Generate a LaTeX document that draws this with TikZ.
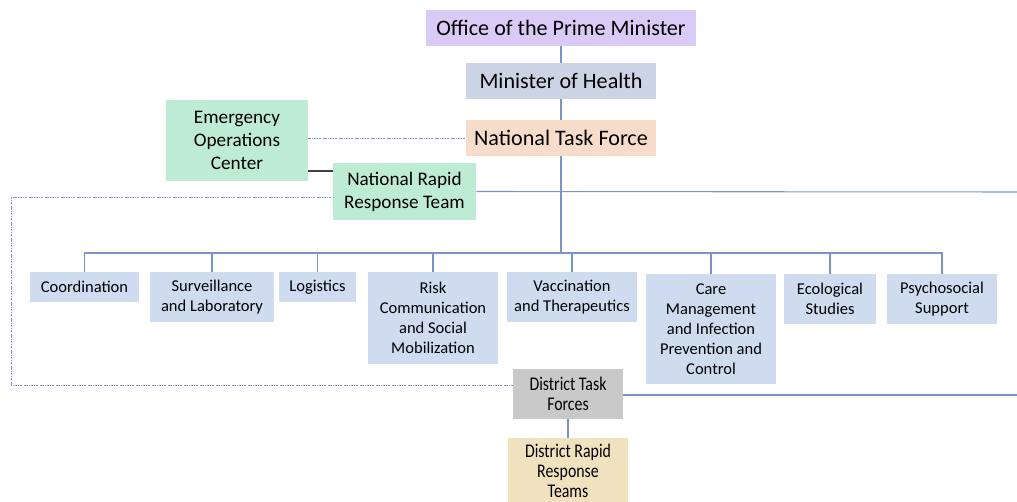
\documentclass[tikz,border=0pt]{standalone}
\usepackage{fontspec}
\setmainfont{Carlito}
\newfontfamily\condfont[FakeStretch=0.82]{Carlito}
\definecolor{cOPM}{HTML}{D9CBF6}
\definecolor{cMOH}{HTML}{CBD3E4}
\definecolor{cNTF}{HTML}{F8DCCA}
\definecolor{cGRN}{HTML}{BEEBD3}
\definecolor{cBLU}{HTML}{CFDCEF}
\definecolor{cDTF}{HTML}{C9C9C9}
\definecolor{cDRR}{HTML}{F1E2BF}
\definecolor{cLINE}{HTML}{7B93C6}
\definecolor{cDOT}{HTML}{7F95C8}
\definecolor{cDARK}{HTML}{404040}
\tikzset{
  box/.style={fill=#1, draw=none, inner sep=0pt, align=center, text=black},
  bigtxt/.style={font=\fontsize{16.6}{20}\selectfont},
  midtxt/.style={font=\fontsize{14.4}{17.3}\selectfont},
  smalltxt/.style={font=\fontsize{12.4}{15}\selectfont},
  condtxt/.style={font=\condfont\fontsize{14.5}{15}\selectfont},
  conn/.style={draw=cLINE, line width=0.8pt},
  dotconn/.style={draw=cDOT, line width=0.6pt, dash pattern=on 1.8pt off 0.9pt on 0.4pt off 0.9pt},
  darkconn/.style={draw=cDARK, line width=0.8pt}
}
\begin{document}
\begin{tikzpicture}[x=0.75pt, y=-0.75pt]
\useasboundingbox (0,0) rectangle (1017,502);
% top chain
\node[box=cOPM, bigtxt, minimum width=202.5pt, minimum height=27pt] (opm) at (561,28) {Office of the Prime Minister};
\node[box=cMOH, bigtxt, minimum width=142.5pt, minimum height=27pt] (moh) at (561,81) {Minister of Health};
\node[box=cNTF, bigtxt, minimum width=142.5pt, minimum height=27pt] (ntf) at (561,138) {National Task Force};
\node[box=cGRN, midtxt, minimum width=106.5pt, minimum height=60.75pt] (eoc) at (237,140.5) {Emergency\\Operations\\Center};
\node[box=cGRN, midtxt, minimum width=107.25pt, minimum height=42.75pt] (nrrt) at (404.5,191.5) {National Rapid\\Response Team};
% pillars
\node[box=cBLU, smalltxt, minimum width=81.75pt, minimum height=22.5pt] (coord) at (84.5,287) {Coordination};
\node[box=cBLU, smalltxt, minimum width=93pt, minimum height=37.5pt] (surv) at (212,297) {Surveillance\\and Laboratory};
\node[box=cBLU, smalltxt, minimum width=57.75pt, minimum height=22.5pt] (logi) at (317.5,287) {Logistics};
\node[box=cBLU, smalltxt, minimum width=97.5pt, minimum height=69pt] (risk) at (433,318) {Risk\\Communication\\and Social\\Mobilization};
\node[box=cBLU, smalltxt, minimum width=97.5pt, minimum height=37.5pt] (vacc) at (572,297) {Vaccination\\and Therapeutics};
\node[box=cBLU, smalltxt, minimum width=97.5pt, minimum height=82.5pt] (care) at (711,329) {Care\\Management\\and Infection\\Prevention and\\Control};
\node[box=cBLU, smalltxt, minimum width=69pt, minimum height=37.5pt] (eco) at (830,299) {Ecological\\Studies};
\node[box=cBLU, smalltxt, minimum width=82.5pt, minimum height=37.5pt] (psy) at (942,299) {Psychosocial\\Support};
% district
\node[box=cDTF, condtxt, minimum width=82.5pt, minimum height=37.5pt] (dtf) at (568,394) {District Task\\Forces};
\node[box=cDRR, condtxt, minimum width=90pt, minimum height=54pt] (drrt) at (568,474) {};
\node[condtxt, align=center, inner sep=0pt] (drrttxt) at (568,471) {District Rapid\\Response\\Teams};
% coordinates
\coordinate (bus) at (561,253);
\coordinate (edgeA) at (1017,192);
\coordinate (edgeB) at (1017,395);
\coordinate (eocA) at (308,171);
\coordinate (dtfA) at (513,385);
\coordinate (cornerB) at (11,385);
\coordinate (cornerT) at (11,197);
\coordinate (nrrtA) at (333,197);
% connectors
\draw[conn] (opm.south) -- (moh.north);
\draw[conn] (moh.south) -- (ntf.north);
\draw[conn] (ntf.south) -- (bus);
\foreach \n in {coord,surv,logi,risk,vacc,care,eco,psy}{
  \draw[conn] (\n.north) |- (bus);
}
\draw[conn] (nrrt.east) -- (edgeA);
\draw[conn] (dtf.east |- edgeB) -- (edgeB);
\draw[conn] (dtf.south) -- (drrt.north);
\draw[dotconn] (eoc.east |- ntf.west) -- (ntf.west);
\draw[darkconn] (eocA) -- (eocA -| nrrt.west);
\draw[dotconn] (dtfA) -- (cornerB) -- (cornerT) -- (nrrtA);
\end{tikzpicture}
\end{document}
